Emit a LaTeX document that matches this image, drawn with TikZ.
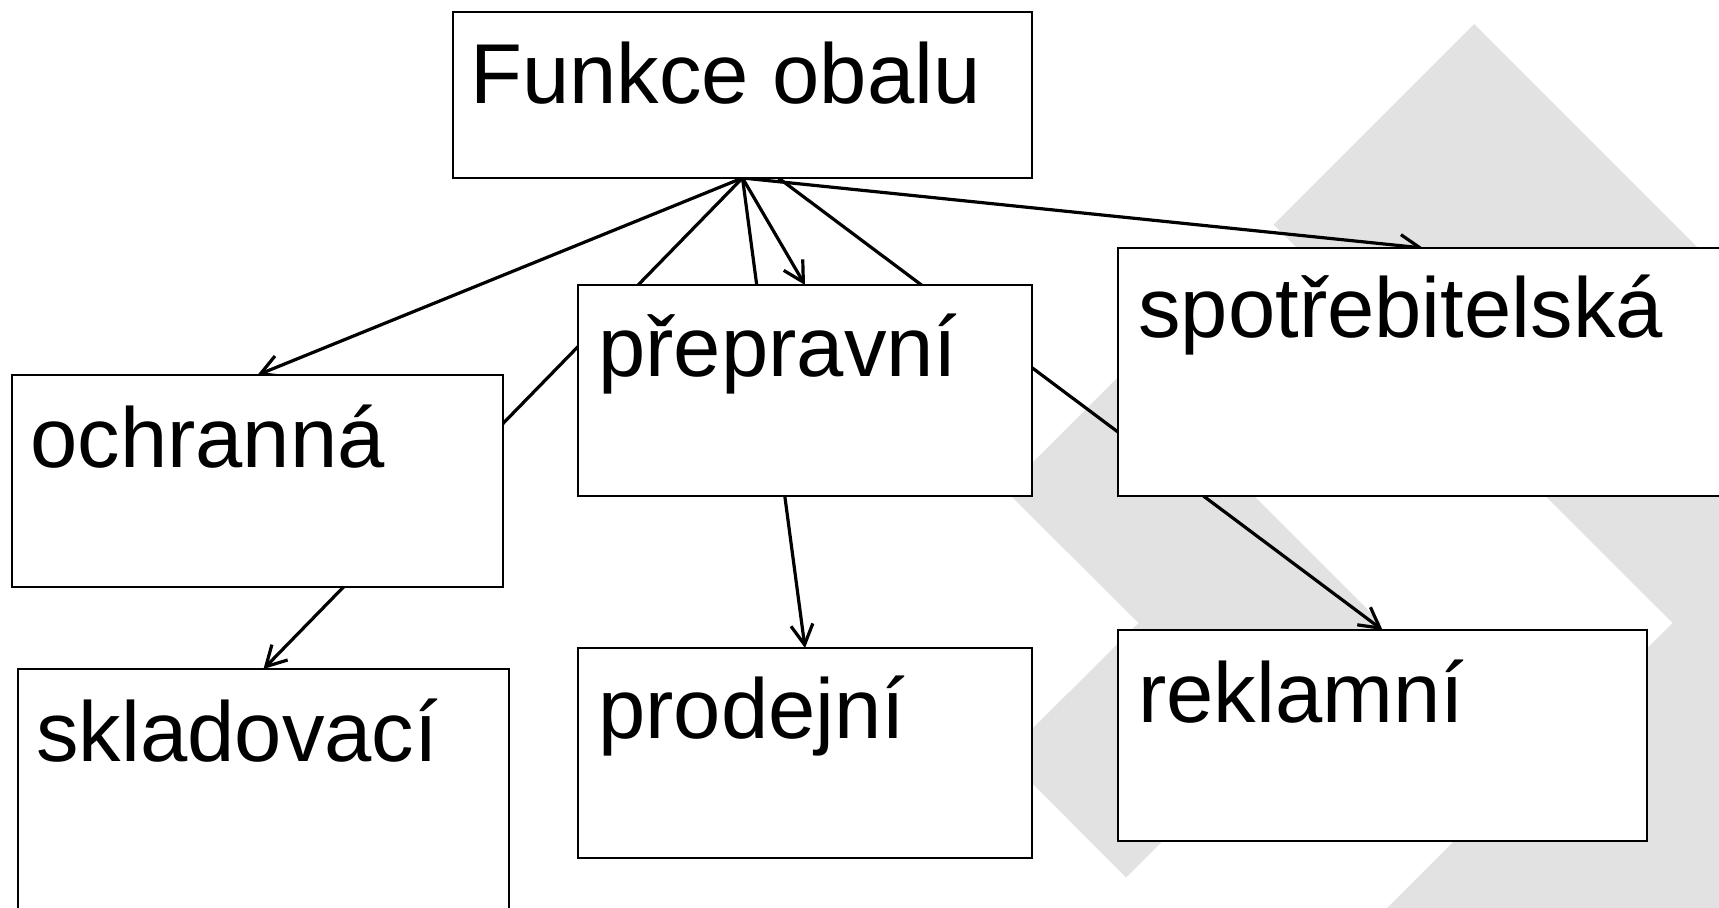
\documentclass[tikz,border=0pt]{standalone}
\usepackage{fontspec}
\setmainfont{Liberation Sans}
\usetikzlibrary{arrows.meta}
\definecolor{shadegray}{RGB}{225,226,225}
\pgfdeclarelayer{shade}
\pgfdeclarelayer{links}
\pgfsetlayers{shade,links,main}

\begin{document}
\begin{tikzpicture}[x=0.5pt, y=-0.5pt,
  fbox/.style={draw, fill=white, line width=0.9pt, inner sep=0pt, outer sep=0pt, anchor=north west},
  flabel/.style={anchor=base west, inner sep=0pt, font=\fontsize{42.5}{50}\selectfont},
  arr/.style={line width=1.6pt, -{Straight Barb[length=10pt,width=11pt]}}]
\useasboundingbox (0,0) rectangle (1719,908);
\clip (0,0) rectangle (1719,908);
% boxes
\node[fbox, minimum width=289.5pt, minimum height=83pt] (top) at (453,12) {};
\node[fbox, minimum width=245.5pt, minimum height=106pt] (ochr) at (12,375) {};
\node[fbox, minimum width=227pt, minimum height=105.5pt] (prep) at (578,285) {};
\node[fbox, minimum width=305pt, minimum height=124pt] (spot) at (1118,248) {};
\node[fbox, minimum width=245.5pt, minimum height=130pt] (sklad) at (18,669) {};
\node[fbox, minimum width=227pt, minimum height=105pt] (prod) at (578,648) {};
\node[fbox, minimum width=264.5pt, minimum height=105.5pt] (rekl) at (1118,630) {};
% labels
\node[flabel] (top-t) at ([shift={(17,92)}]top.north west) {Funkce obalu};
\node[flabel] (ochr-t) at ([shift={(18,93)}]ochr.north west) {ochranná};
\node[flabel] (prep-t) at ([shift={(20,92)}]prep.north west) {přepravní};
\node[flabel] (spot-t) at ([shift={(20,90)}]spot.north west) {spotřebitelská};
\node[flabel] (sklad-t) at ([shift={(18,93)}]sklad.north west) {skladovací};
\node[flabel] (prod-t) at ([shift={(20,90)}]prod.north west) {prodejní};
\node[flabel] (rekl-t) at ([shift={(20,92)}]rekl.north west) {reklamní};
% connectors
\begin{pgfonlayer}{links}
\draw[arr] (top.south) -- (ochr.north);
\draw[arr] (top.south) -- (sklad.north);
\draw[arr] (top.south) -- (prod.north);
\draw[arr] (top.south) -- (prep.north);
\draw[arr] ([xshift=18pt]top.south) -- (rekl.north);
\draw[arr] (top.south) -- (spot.north);
\end{pgfonlayer}
% grey chevrons behind
\begin{pgfonlayer}{shade}
\clip (0,0) rectangle (1719,908);
\fill[shadegray] (1005,490) -- (1126.5,368.5) -- (1381,623) -- (1126,877.5) -- (1005,756) -- (1138.5,623) -- cycle;
\fill[shadegray] (1273.5,224.5) -- (1474,24) -- (2073,623) -- (1474,1222) -- (1273.5,1021.5) -- (1672.5,623) -- cycle;
\end{pgfonlayer}
\end{tikzpicture}
\end{document}
